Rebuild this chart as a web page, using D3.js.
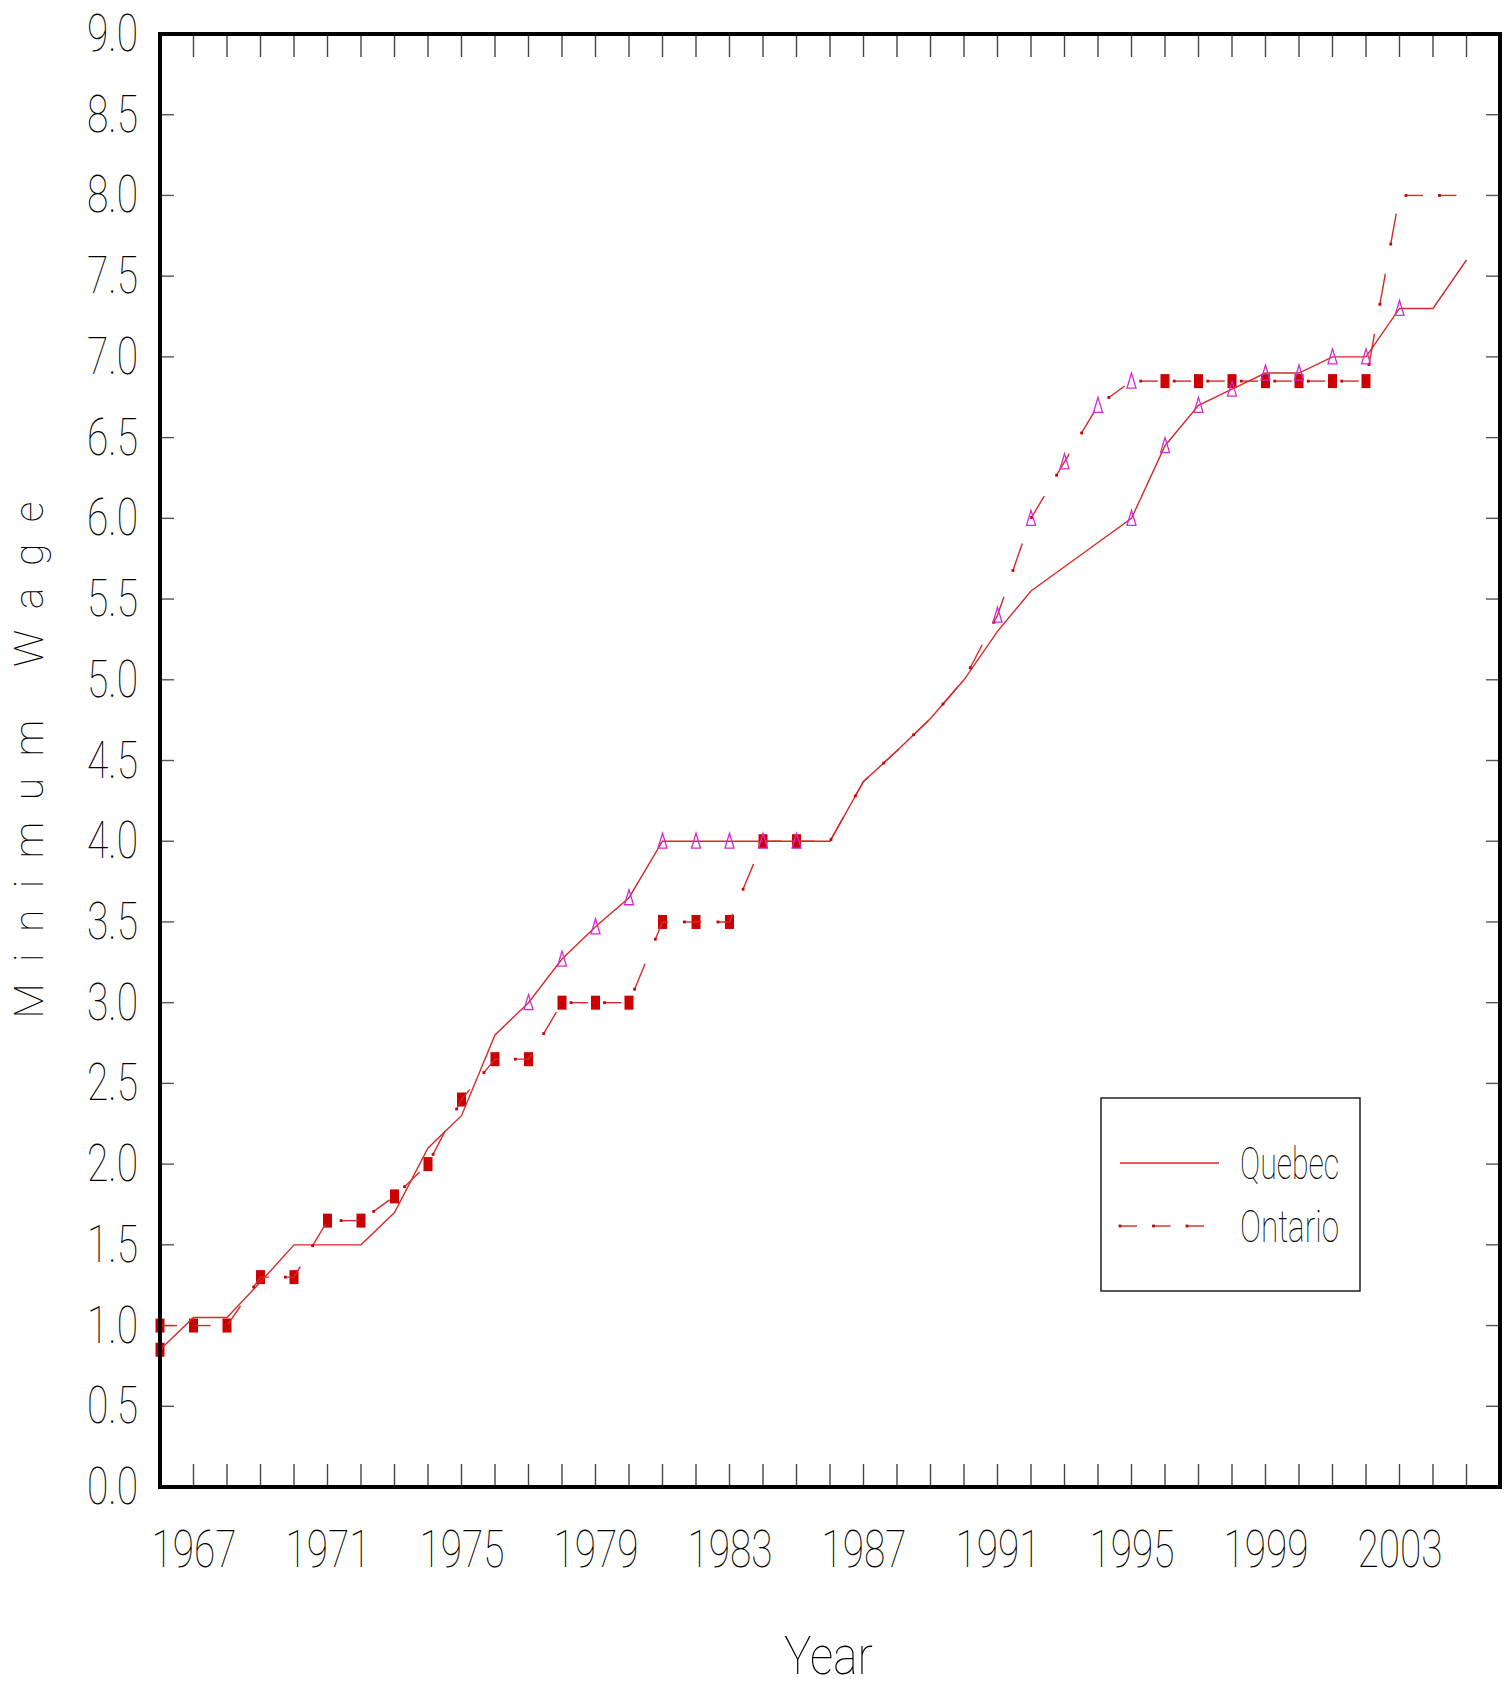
<!DOCTYPE html>
<html>
<head>
<meta charset="utf-8">
<script src="https://cdn.jsdelivr.net/npm/d3@7"></script>
<style>
  html, body { margin: 0; padding: 0; background: #fff; }
  svg { display: block; }
  text { font-family: Roboto, "Open Sans", "DejaVu Sans", sans-serif; font-weight: 100; fill: #000; }
</style>
</head>
<body>
<svg id="chart" width="1504" height="1690"></svg>
<script>
// ---------------- data ----------------
const years = [1966,1967,1968,1969,1970,1971,1972,1973,1974,1975,
               1976,1977,1978,1979,1980,1981,1982,1983,1984,1985,
               1986,1987,1988,1989,1990,1991,1992,1993,1994,1995,
               1996,1997,1998,1999,2000,2001,2002,2003,2004,2005];
const quebec = [0.85,1.05,1.05,1.27,1.50,1.50,1.50,1.70,2.10,2.30,
                2.80,3.00,3.27,3.47,3.65,4.00,4.00,4.00,4.00,4.00,
                4.00,4.37,4.56,4.76,5.00,5.30,5.55,5.70,5.85,6.00,
                6.45,6.70,6.80,6.90,6.90,7.00,7.00,7.30,7.30,7.60];
const ontario = [1.00,1.00,1.00,1.30,1.30,1.65,1.65,1.80,2.00,2.40,
                 2.65,2.65,3.00,3.00,3.00,3.50,3.50,3.50,4.00,4.00,
                 4.00,4.37,4.56,4.76,5.00,5.40,6.00,6.35,6.70,6.85,
                 6.85,6.85,6.85,6.85,6.85,6.85,6.85,8.00,8.00,8.00];
// years carrying marker symbols in the original
const ontarioSquareYears = [1966,1967,1968,1969,1970,1971,1972,1973,1974,1975,1976,1977,1978,1979,1980,1981,1982,1983,1984,1985,
                            1996,1997,1998,1999,2000,2001,2002];
const quebecSquareYears = [1966];
const quebecTriangleYears = [1977,1978,1979,1980,1981,1982,1983,1984,1985,1995,1996,1997,1998,1999,2000,2001,2002,2003];
const ontarioTriangleYears = [1991,1992,1993,1994,1995];
const xTickLabels = [1967,1971,1975,1979,1983,1987,1991,1995,1999,2003];
const yTickValues = [0,0.5,1,1.5,2,2.5,3,3.5,4,4.5,5,5.5,6,6.5,7,7.5,8,8.5,9];
const seriesNames = ["Quebec","Ontario"];

// ---------------- layout ----------------
const svg = d3.select("#chart");
const L = 160, R = 1500, T = 34, B = 1487;
const x = d3.scaleLinear().domain([1966, 2006]).range([L, R]);
const y = d3.scaleLinear().domain([0, 9]).range([B, T]);
const RED = "#d42a2a", DARKRED = "#cc0000", MAG = "#d428d4";
const DASH = 17, GAP = 16.5, KY = 1.9;

const q = years.map((yr,i)=>({year:yr, v:quebec[i]}));
const o = years.map((yr,i)=>({year:yr, v:ontario[i]}));
const valOf = (arr, yr) => arr[years.indexOf(yr)];

// dash-dot pattern measured along the polyline (y distances compressed, as in the original device)
function dashPolyline(pts) {
  const segs = [], starts = [];
  const period = DASH + GAP;
  let phase = 0, cur = null;
  for (let i = 0; i < pts.length - 1; i++) {
    const p0 = pts[i], p1 = pts[i+1];
    const dx = p1[0]-p0[0], dy = p1[1]-p0[1];
    const len = Math.hypot(dx, dy / KY);
    const at = f => [p0[0] + dx*f, p0[1] + dy*f];
    let t = 0;
    while (t < len - 1e-9) {
      if (phase < DASH) {
        const step = Math.min(DASH - phase, len - t);
        if (phase < 1e-9) starts.push(at(t/len));
        if (!cur) cur = [at(t/len)];
        cur.push(at((t+step)/len));
        phase += step; t += step;
        if (phase >= DASH - 1e-9) { segs.push(cur); cur = null; }
      } else {
        const step = Math.min(period - phase, len - t);
        phase += step; t += step;
        if (phase >= period - 1e-9) phase = 0;
      }
    }
  }
  if (cur) segs.push(cur);
  return {segs, starts};
}

// minor ticks (every year, every 0.5)
const tickYears = d3.range(1967, 2006);
const gT = svg.append("g");
gT.selectAll("line.xb").data(tickYears).join("line")
  .attr("x1", d=>x(d)).attr("x2", d=>x(d)).attr("y1", B).attr("y2", B-23)
  .attr("stroke", "#444").attr("stroke-width", 1.4);
gT.selectAll("line.xt").data(tickYears).join("line")
  .attr("x1", d=>x(d)).attr("x2", d=>x(d)).attr("y1", T).attr("y2", T+23)
  .attr("stroke", "#444").attr("stroke-width", 1.4);
const yMinor = yTickValues.filter(v=>v>0 && v<9);
gT.selectAll("line.yl").data(yMinor).join("line")
  .attr("x1", L).attr("x2", L+14).attr("y1", d=>y(d)).attr("y2", d=>y(d))
  .attr("stroke", "#555").attr("stroke-width", 1.4);
gT.selectAll("line.yr").data(yMinor).join("line")
  .attr("x1", R).attr("x2", R-14).attr("y1", d=>y(d)).attr("y2", d=>y(d))
  .attr("stroke", "#555").attr("stroke-width", 1.4);

// y tick labels
svg.append("g").selectAll("text").data(yTickValues).join("text")
  .attr("x", 138).attr("y", d=>y(d)+17)
  .attr("text-anchor","end")
  .attr("font-size", 52)
  .attr("textLength", 51).attr("lengthAdjust","spacingAndGlyphs")
  .text(d=>d3.format(".1f")(d));

// x tick labels
svg.append("g").selectAll("text").data(xTickLabels).join("text")
  .attr("x", d=>x(d)-42).attr("y", 1567)
  .attr("font-size", 52)
  .attr("textLength", 85).attr("lengthAdjust","spacingAndGlyphs")
  .text(d=>d);

// axis titles
svg.append("text")
  .attr("transform", `translate(43, ${(T+B)/2}) rotate(-90)`)
  .attr("x", -258).attr("y", 0)
  .attr("font-size", 41)
  .attr("textLength", 517).attr("lengthAdjust","spacing")
  .text("Minimum Wage");
svg.append("text")
  .attr("x", 784).attr("y", 1674)
  .attr("font-size", 54)
  .attr("textLength", 89).attr("lengthAdjust","spacingAndGlyphs")
  .text("Year");

// squares (under lines)
const sqData = ontarioSquareYears.map(yr=>({year:yr, v:valOf(ontario, yr)}))
  .concat(quebecSquareYears.map(yr=>({year:yr, v:valOf(quebec, yr)})));
svg.append("g").selectAll("rect").data(sqData).join("rect")
  .attr("x", d=>x(d.year)-4.5).attr("y", d=>y(d.v)-7)
  .attr("width", 9).attr("height", 14)
  .attr("fill", DARKRED);

// Quebec solid line
const line = d3.line().x(d=>x(d.year)).y(d=>y(d.v));
svg.append("path").datum(q).attr("d", line)
  .attr("fill","none").attr("stroke", RED).attr("stroke-width", 1.4);

// Ontario dash-dot line
const oPix = o.map(d=>[x(d.year), y(d.v)]);
const od = dashPolyline(oPix);
const gO = svg.append("g");
gO.selectAll("path").data(od.segs).join("path")
  .attr("d", d=>d3.line()(d))
  .attr("fill","none").attr("stroke", RED).attr("stroke-width", 1.4);
gO.selectAll("rect").data(od.starts).join("rect")
  .attr("x", d=>d[0]-1.4).attr("y", d=>d[1]-1.4).attr("width", 2.8).attr("height", 2.8)
  .attr("fill", DARKRED);

// triangles
const triData = quebecTriangleYears.map(yr=>({year:yr, v:valOf(quebec, yr)}))
  .concat(ontarioTriangleYears.map(yr=>({year:yr, v:valOf(ontario, yr)})));
svg.append("g").selectAll("path").data(triData).join("path")
  .attr("d", d=>{ const cx=x(d.year), cy=y(d.v);
    return `M${cx},${cy-8}L${cx+4.5},${cy+7}L${cx-4.5},${cy+7}Z`; })
  .attr("fill","none").attr("stroke", MAG).attr("stroke-width", 1.3);

// frame
svg.append("rect").attr("x", L).attr("y", T).attr("width", R-L).attr("height", B-T)
  .attr("fill","none").attr("stroke","#000").attr("stroke-width", 4);

// legend
const lg = svg.append("g");
lg.append("rect").attr("x", 1101).attr("y", 1098).attr("width", 259).attr("height", 193)
  .attr("fill","none").attr("stroke","#111").attr("stroke-width",1.4);
lg.append("line").attr("x1",1120).attr("x2",1219).attr("y1",1163).attr("y2",1163)
  .attr("stroke",RED).attr("stroke-width",1.4);
const lgd = dashPolyline([[1120,1226],[1219,1226]]);
lg.selectAll("path.lo").data(lgd.segs).join("path")
  .attr("d", d=>d3.line()(d)).attr("fill","none").attr("stroke",RED).attr("stroke-width",1.4);
lg.selectAll("rect.lo").data(lgd.starts).join("rect")
  .attr("x", d=>d[0]-1.4).attr("y", d=>d[1]-1.4).attr("width", 2.8).attr("height", 2.8)
  .attr("fill", DARKRED);
[[seriesNames[0],1163],[seriesNames[1],1226]].forEach(([name,yy])=>{
  lg.append("text").attr("x",1240).attr("y",yy+16)
    .attr("font-size",44)
    .attr("textLength", 99).attr("lengthAdjust","spacingAndGlyphs")
    .text(name);
});
</script>
</body>
</html>
